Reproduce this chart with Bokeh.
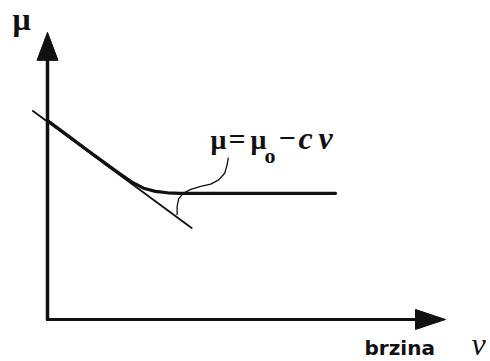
from bokeh.plotting import figure
from bokeh.models import Range1d, Label
from bokeh.embed import file_html
from bokeh.resources import INLINE

# ---- data (chart units: v = speed, mu = friction coefficient) ----
axis_v_max = 9.95
axis_mu_max = 9.97

tangent_v = [-0.38, 3.62]
tangent_mu = [7.26, 3.16]

curve_v = [0.0, 0.5, 1.0, 1.5, 1.8, 2.1, 2.4, 2.7, 3.0, 3.3, 7.2]
curve_mu = [6.91, 6.40, 5.88, 5.37, 5.07, 4.78, 4.56, 4.45, 4.40, 4.38, 4.38]

leader_v = [4.52, 4.49, 4.43, 4.28, 4.08, 3.83, 3.58, 3.39, 3.28, 3.24, 3.24]
leader_mu = [5.62, 5.37, 5.08, 4.85, 4.70, 4.62, 4.52, 4.38, 4.19, 3.92, 3.63]

formula_chars = ["μ", "=", "μ", "o", "−", "c", "ν"]
y_label = "μ"
x_label_word = "brzina"
x_label_sym = "ν"

# ---- layout (page pixels) ----
OFF = 0                    # canvas offset on the page
W, H = 490, 361
X0, Y0 = 47, 319          # page position of origin
PX, PY = 40.0, 28.8       # pixels per unit
INK = "#111111"
BASE_FIX = 0.37           # em correction for rendered baseline

def dx(X):
    return (X - X0) / PX

def dy(Y):
    return (Y0 - Y) / PY

p = figure(width=W, height=H, output_backend="svg", toolbar_location=None,
           x_range=Range1d(dx(OFF), dx(OFF + W)), y_range=Range1d(dy(OFF + H), dy(OFF)),
           x_axis_type=None, y_axis_type=None, min_border=0)
p.grid.visible = False
p.outline_line_color = None
p.background_fill_color = "white"
p.border_fill_color = "white"

# axes with arrow heads
yh_len, yh_w = 28, 21
xh_len, xh_w = 30, 20
p.line([0, 0], [dy(Y0 + 1), axis_mu_max - yh_len / PY + 0.05], line_color=INK, line_width=3.5)
p.line([dx(X0 - 1.5), axis_v_max - xh_len / PX + 0.05], [0, 0], line_color=INK, line_width=3.2)
p.patch([0, -yh_w / 2 / PX, yh_w / 2 / PX],
        [axis_mu_max, axis_mu_max - yh_len / PY, axis_mu_max - yh_len / PY],
        fill_color=INK, line_color=INK, line_width=1)
p.patch([axis_v_max, axis_v_max - xh_len / PX, axis_v_max - xh_len / PX],
        [0, xh_w / 2 / PY, -xh_w / 2 / PY],
        fill_color=INK, line_color=INK, line_width=1)

# tangent line mu = mu0 - c v
p.line(tangent_v, tangent_mu, line_color=INK, line_width=1.8)
# friction curve
p.line(curve_v, curve_mu, line_color=INK, line_width=3.2, line_join="round", line_cap="round")
# leader
p.line(leader_v, leader_mu, line_color=INK, line_width=1.3, line_join="round")

# labels
def lab(text, X, Y, font, size, style="normal"):
    Yc = Y - BASE_FIX * size
    p.add_layout(Label(x=dx(X), y=dy(Yc), text=text, text_font=font,
                       text_font_size=f"{size}px", text_font_style=style,
                       text_color=INK, text_align="left", text_baseline="alphabetic"))

lab(y_label, 12, 30, "Liberation Serif", 32, "bold")

fx = [210, 228, 250, 264, 278, 298, 318]
fy = [149, 149, 149, 163, 149, 149, 149]
fs = [28, 30, 28, 22, 30, 32, 32]
fst = ["bold", "bold", "bold", "bold", "bold", "bold italic", "bold italic"]
for ch, X, Y, s, st in zip(formula_chars, fx, fy, fs, fst):
    lab(ch, X, Y, "Liberation Serif", s, st)

lab(x_label_word, 364, 355, "DejaVu Sans", 20, "bold")
lab(x_label_sym, 471, 355, "Liberation Serif", 32, "italic")

open("out.html", "w").write(file_html(p, INLINE))
